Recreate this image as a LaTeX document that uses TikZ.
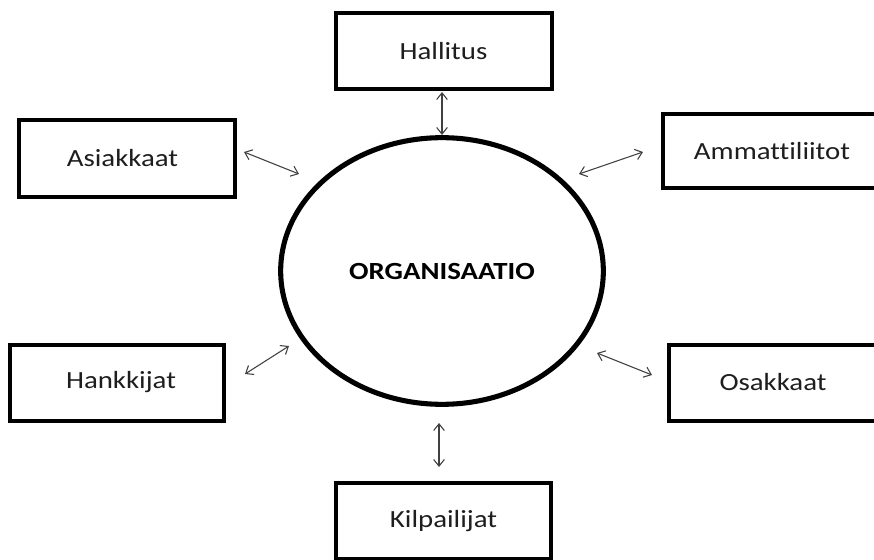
\documentclass[tikz,border=0pt]{standalone}
\usepackage{fontspec}
\setmainfont{Carlito}[FakeStretch=1.17, Ligatures={NoCommon,NoRare}]
\usetikzlibrary{arrows.meta,shapes.geometric}
\definecolor{txt}{HTML}{1E1E1E}
\definecolor{arr}{HTML}{404040}
\tikzset{
  box/.style={draw=black, line width=3pt, fill=white, inner sep=0pt,
    text=txt, font=\fontsize{18.5pt}{22pt}\selectfont},
  link/.style={draw=arr, line width=0.8pt, {Straight Barb[length=5pt,width=8pt]}-{Straight Barb[length=5pt,width=8pt]}}
}
\begin{document}
\begin{tikzpicture}[x=0.75pt,y=-0.75pt]
\useasboundingbox (0,0) rectangle (874,560);
\begin{scope}
\clip (0,0) rectangle (874,560);
\node[box, minimum width=162pt, minimum height=57pt] (hal) at (443.5,51) {Hallitus};
\node[box, minimum width=162pt, minimum height=58pt] (asi) at (126.5,158.5) {\hspace*{-6pt}Asiakkaat};
\node[box, minimum width=164pt, minimum height=56pt] (amm) at (772,151) {Ammattiliitot};
\node[box, minimum width=161pt, minimum height=57pt] (han) at (117,382.5) {\hspace*{6pt}Hankkijat};
\node[box, minimum width=162pt, minimum height=57pt] (osa) at (777,382.5) {\hspace*{-6pt}Osakkaat};
\node[box, minimum width=161pt, minimum height=57pt] (kil) at (443.5,521) {Kilpailijat};
\node[draw=black, line width=3.8pt, ellipse, minimum width=242pt, minimum height=200pt, inner sep=0pt,
  text=black, font=\fontsize{18.5pt}{22pt}\selectfont\bfseries] (org) at (442,271) {ORGANISAATIO};
\end{scope}
\coordinate (h1) at (442,92);  \coordinate (h2) at (442,135);
\coordinate (s1) at (244,152); \coordinate (s2) at (299,174);
\coordinate (m1) at (579,174); \coordinate (m2) at (643,152);
\coordinate (k1) at (245,374); \coordinate (k2) at (289,346);
\coordinate (o1) at (597,353); \coordinate (o2) at (652,375);
\coordinate (p1) at (439,423); \coordinate (p2) at (439,467);
\draw[link] (h1) -- (h2);
\draw[link] (s1) -- (s2);
\draw[link] (m1) -- (m2);
\draw[link] (k1) -- (k2);
\draw[link] (o1) -- (o2);
\draw[link] (p1) -- (p2);
\end{tikzpicture}
\end{document}
